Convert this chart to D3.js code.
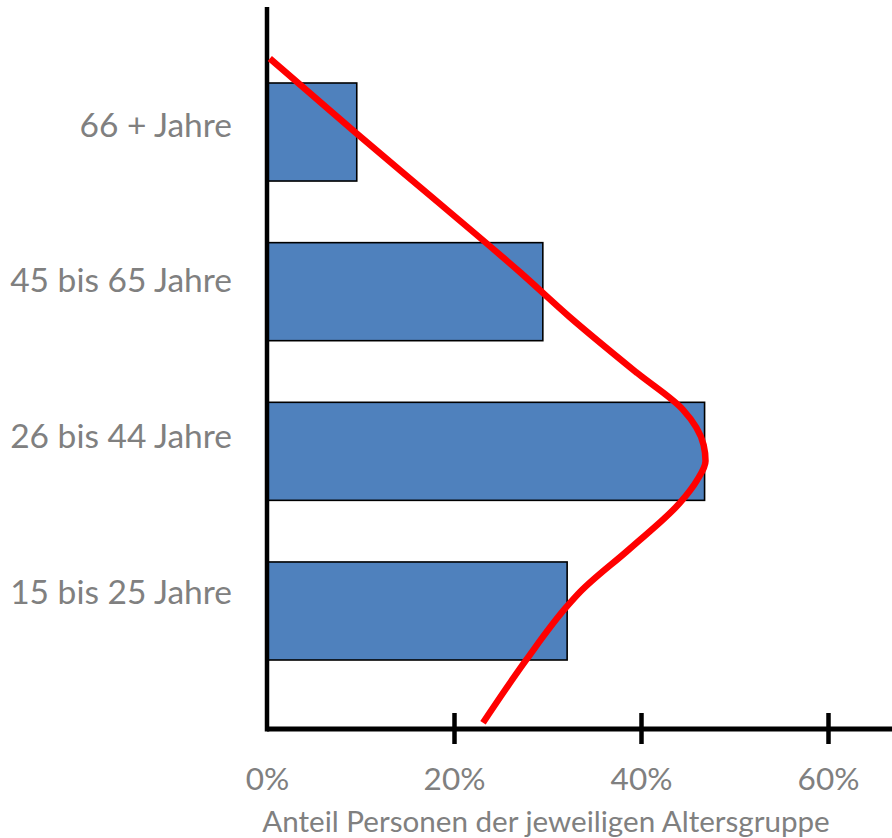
<!DOCTYPE html>
<html>
<head>
<meta charset="utf-8">
<script src="https://cdn.jsdelivr.net/npm/d3@7"></script>
<style>
  body { margin: 0; background: #fff; }
  text { font-family: Lato, "Open Sans", sans-serif; fill: #808080; }
</style>
</head>
<body>
<svg></svg>
<script>
// age groups, top to bottom
let groups = ['66 + Jahre', '45 bis 65 Jahre', '26 bis 44 Jahre', '15 bis 25 Jahre'];
// share of people in each group (%)
let shares = [9.6, 29.5, 46.8, 32.1];
let xTicks = [0, 20, 40, 60];
let xTitle = 'Anteil Personen der jeweiligen Altersgruppe';

// red trend curve: share (%) and position along the group axis (0 = 15 bis 25, 3 = 66 +)
let curveShare = [0.3, 9.4, 18.5, 27.1, 32.4, 39.6, 44.5, 46.7, 46.9, 46.0, 44.2, 38.8, 33.5, 32.1, 27.8, 23.1];
let curvePos = [3.46, 3.0, 2.55, 2.12, 1.84, 1.49, 1.26, 1.04, 0.94, 0.82, 0.68, 0.39, 0.12, 0.03, -0.30, -0.70];

let width = 892;
let height = 838;
let left = 267;
let axisY = 729;
let axisTop = 7;

let svg = d3.select('svg').attr('width', width).attr('height', height);

let xScale = d3.scaleLinear().domain([0, 60]).range([left, 828]);
let yScale = d3.scaleBand().domain(groups).range([83, 660]).paddingInner(0.386).paddingOuter(0);
let labelScale = d3.scalePoint().domain(groups).range([125, 592]);
let posScale = d3.scaleLinear().
  domain([0, 3]).
  range([yScale(groups[3]) + yScale.bandwidth() / 2, yScale(groups[0]) + yScale.bandwidth() / 2]);

// bars
svg.selectAll('rect.bar').
  data(groups).
  enter().
  append('rect').
  attr('class', 'bar').
  attr('x', xScale(0)).
  attr('y', d => yScale(d)).
  attr('width', (d, i) => xScale(shares[i]) - xScale(0)).
  attr('height', yScale.bandwidth()).
  attr('fill', '#4f81bd').
  attr('stroke', '#000').
  attr('stroke-width', 1.6);

// group labels
svg.selectAll('text.group').
  data(groups).
  enter().
  append('text').
  attr('class', 'group').
  attr('x', 232).
  attr('y', d => labelScale(d)).
  attr('dy', '0.35em').
  attr('text-anchor', 'end').
  style('font-size', '33.5px').
  text(d => d);

// x axis
let xAxis = d3.axisBottom(xScale).
  tickValues(xTicks).
  tickFormat(d => d + '%').
  tickSizeOuter(0);

let gx = svg.append('g').
  attr('transform', 'translate(0,' + axisY + ')').
  call(xAxis);

gx.select('.domain').remove();
gx.selectAll('.tick line').
  attr('y1', -16).
  attr('y2', 15).
  attr('stroke', '#000').
  attr('stroke-width', 4.5).
  attr('display', d => d === 0 ? 'none' : null);
gx.selectAll('.tick text').
  attr('y', 61).
  attr('dy', 0).
  style('font-size', '31.5px').
  style('font-family', 'Lato, "Open Sans", sans-serif').
  attr('fill', '#808080');

// axis lines
svg.append('line').
  attr('x1', left).attr('x2', width).
  attr('y1', axisY).attr('y2', axisY).
  attr('stroke', '#000').attr('stroke-width', 5);
svg.append('line').
  attr('x1', left).attr('x2', left).
  attr('y1', axisTop).attr('y2', axisY + 2.5).
  attr('stroke', '#000').attr('stroke-width', 4.5);

svg.append('text').
  attr('x', 546).
  attr('y', 832).
  attr('text-anchor', 'middle').
  style('font-size', '29.6px').
  text(xTitle);

// trend curve
let line = d3.line().
  x((d, i) => xScale(curveShare[i])).
  y((d, i) => posScale(curvePos[i])).
  curve(d3.curveMonotoneY);

svg.append('path').
  datum(curveShare).
  attr('d', line).
  attr('fill', 'none').
  attr('stroke', '#ff0000').
  attr('stroke-width', 6.5);
</script>
</body>
</html>
